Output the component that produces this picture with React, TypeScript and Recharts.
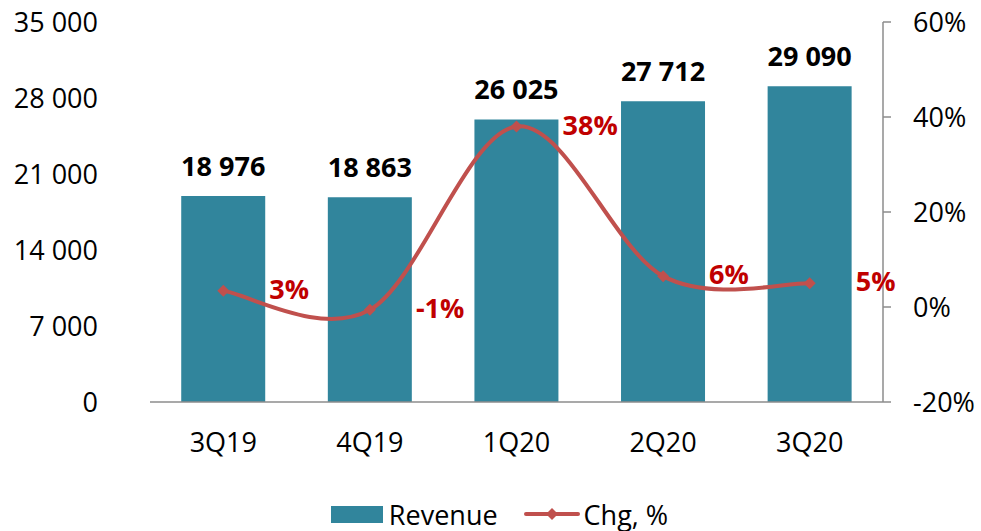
import React from "react";
import {
  ComposedChart,
  Bar,
  Line,
  XAxis,
  YAxis,
  Legend,
  LabelList,
} from "recharts";

const categories = ["3Q19", "4Q19", "1Q20", "2Q20", "3Q20"];
const revenue = [18976, 18863, 26025, 27712, 29090];
const changePct = [3.4, -0.6, 38.0, 6.5, 5.0];
const changeLabels = ["3%", "-1%", "38%", "6%", "5%"];
const leftTicks = [0, 7000, 14000, 21000, 28000, 35000];
const rightTicks = [-20, 0, 20, 40, 60];

const data = categories.map((c, i) => ({
  name: c,
  revenue: revenue[i],
  chg: changePct[i],
  chgLabel: changeLabels[i],
}));

const FONT = "'Open Sans', 'Liberation Sans', sans-serif";
const BAR_COLOR = "#31859C";
const LINE_COLOR = "#C0504D";
const LABEL_RED = "#C00000";

// Smooth curve (cardinal, tension 0) similar to Excel's smoothed line
const smoothCurve: any = (context: any) => {
  let pts: number[][] = [];
  return {
    areaStart() {},
    areaEnd() {},
    lineStart() {
      pts = [];
    },
    point(x: number, y: number) {
      pts.push([+x, +y]);
    },
    lineEnd() {
      if (!pts.length) return;
      context.moveTo(pts[0][0], pts[0][1]);
      for (let i = 0; i < pts.length - 1; i++) {
        const p0 = pts[i - 1] || pts[i];
        const p1 = pts[i];
        const p2 = pts[i + 1];
        const p3 = pts[i + 2] || pts[i + 1];
        context.bezierCurveTo(
          p1[0] + (p2[0] - p0[0]) / 6,
          p1[1] + (p2[1] - p0[1]) / 6,
          p2[0] - (p3[0] - p1[0]) / 6,
          p2[1] - (p3[1] - p1[1]) / 6,
          p2[0],
          p2[1]
        );
      }
    },
  };
};

const fmtThousands = (v: number) =>
  String(v).replace(/\B(?=(\d{3})+(?!\d))/g, " ");

const Diamond = (props: any) => {
  const { cx, cy } = props;
  if (cx == null || cy == null) return null;
  const r = 6;
  return (
    <path
      d={`M${cx},${cy - r}L${cx + r},${cy}L${cx},${cy + r}L${cx - r},${cy}Z`}
      fill={LINE_COLOR}
      stroke="none"
    />
  );
};

const ChgLabel = (props: any) => {
  const { x, y, value } = props;
  return (
    <text
      x={x + 46}
      y={y + 8}
      fill={LABEL_RED}
      fontFamily={FONT}
      fontWeight={700}
      fontSize={27}
      textAnchor="start"
    >
      {value}
    </text>
  );
};

const LegendContent = () => (
  <div
    style={{
      display: "flex",
      justifyContent: "center",
      alignItems: "center",
      height: 40,
      paddingTop: 6,
      boxSizing: "border-box",
      fontFamily: FONT,
      fontSize: 27,
      color: "#000",
      paddingLeft: 18,
    }}
  >
    <span
      style={{
        display: "inline-block",
        width: 52,
        height: 17,
        background: BAR_COLOR,
        marginRight: 6,
      }}
    />
    <span style={{ marginRight: 26 }}>Revenue</span>
    <svg width={56} height={20} style={{ marginRight: 4 }}>
      <line
        x1={2}
        y1={10}
        x2={54}
        y2={10}
        stroke={LINE_COLOR}
        strokeWidth={4}
        strokeLinecap="round"
      />
      <path d="M28,4L34,10L28,16L22,10Z" fill={LINE_COLOR} />
    </svg>
    <span>Chg, %</span>
  </div>
);

export default function App() {
  return (
    <div style={{ position: "absolute", left: 0, top: 0, width: 981, height: 531, background: "#fff" }}>
      <ComposedChart
        width={981}
        height={531}
        data={data}
        margin={{ top: 22, right: 0, bottom: 0, left: 0 }}
        barCategoryGap="21.3%"
      >
        <XAxis
          dataKey="name"
          axisLine={{ stroke: "#8C8C8C", strokeWidth: 1.5 }}
          tickLine={false}
          tickSize={0}
          tickMargin={31}
          height={89}
          tick={{ fill: "#000", fontFamily: FONT, fontSize: 27 }}
          interval={0}
        />
        <YAxis
          yAxisId="left"
          orientation="left"
          domain={[0, 35000]}
          ticks={leftTicks}
          width={150}
          axisLine={false}
          tickLine={false}
          tickSize={0}
          tickMargin={52}
          tickFormatter={fmtThousands}
          tick={{ fill: "#000", fontFamily: FONT, fontSize: 27 }}
          interval={0}
        />
        <YAxis
          yAxisId="right"
          orientation="right"
          domain={[-20, 60]}
          ticks={rightTicks}
          width={98}
          axisLine={{ stroke: "#8C8C8C", strokeWidth: 1.5 }}
          tickLine={{ stroke: "#8C8C8C", strokeWidth: 1.5 }}
          tickSize={8}
          tickMargin={22}
          tickFormatter={(v: number) => `${v}%`}
          tick={{ fill: "#000", fontFamily: FONT, fontSize: 27 }}
          interval={0}
        />
        <Legend
          verticalAlign="bottom"
          height={40}
          content={<LegendContent />}
        />
        <Bar
          yAxisId="left"
          dataKey="revenue"
          fill={BAR_COLOR}
          isAnimationActive={false}
          name="Revenue"
        >
          <LabelList
            dataKey="revenue"
            position="top"
            offset={20}
            formatter={(v: any) => fmtThousands(v)}
            style={{ fill: "#000", fontFamily: FONT, fontWeight: 700, fontSize: 27 }}
          />
        </Bar>
        <Line
          yAxisId="right"
          dataKey="chg"
          type={smoothCurve}
          stroke={LINE_COLOR}
          strokeWidth={4}
          dot={<Diamond />}
          activeDot={false}
          isAnimationActive={false}
          name="Chg, %"
        >
          <LabelList dataKey="chgLabel" content={<ChgLabel />} />
        </Line>
      </ComposedChart>
    </div>
  );
}
